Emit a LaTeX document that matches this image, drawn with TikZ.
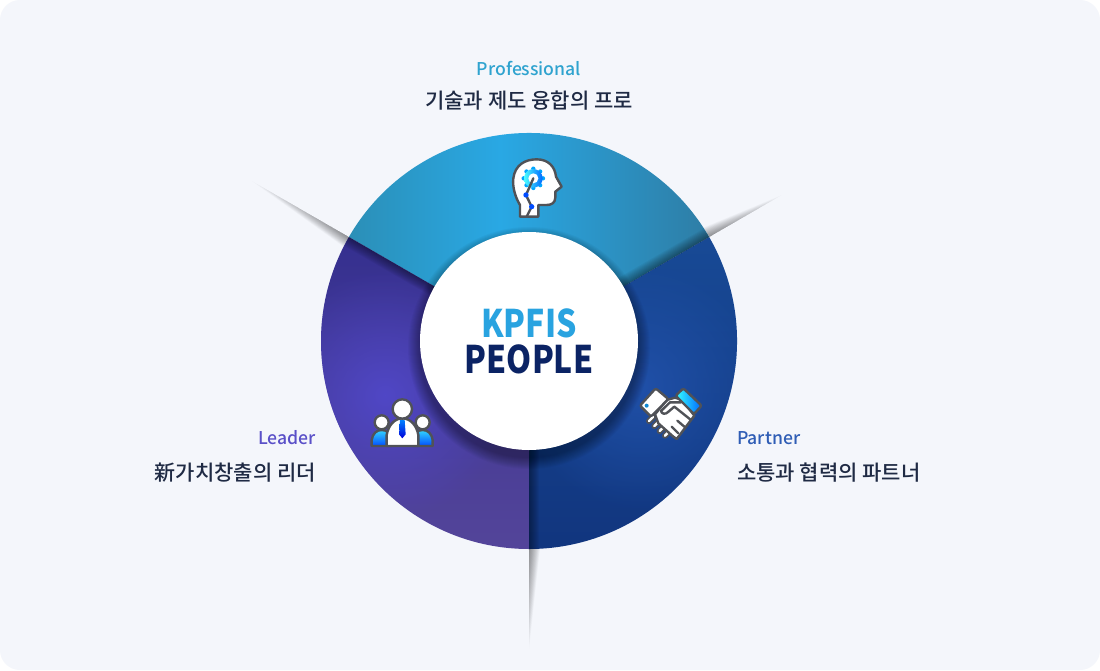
\documentclass[tikz,border=0pt]{standalone}
\usepackage{fontspec}
\setmainfont{Noto Sans CJK KR}
\newfontfamily\medfont{Noto Sans CJK KR Medium}
\newfontfamily\hubfont[FakeStretch=0.84]{Noto Sans CJK KR Black}
\usetikzlibrary{calc,fadings}
\definecolor{pagebg}{HTML}{F4F6FB}
\definecolor{iconline}{HTML}{505257}
\definecolor{subtext}{HTML}{1F2A44}
\definecolor{pro1}{HTML}{2B8FB7}
\definecolor{pro2}{HTML}{29A8E4}
\definecolor{pro3}{HTML}{2E7DA5}
\definecolor{lead1}{HTML}{342F8F}
\definecolor{lead2}{HTML}{54459A}
\definecolor{lead3}{HTML}{5047C6}
\definecolor{part1}{HTML}{184A96}
\definecolor{part2}{HTML}{11357E}
\definecolor{part3}{HTML}{2050A8}
\pgfdeclarehorizontalshading{proband}{100bp}{color(0bp)=(pro1); color(25bp)=(pro1); color(46bp)=(pro2); color(75bp)=(pro3); color(100bp)=(pro3)}
\tikzfading[name=glowfade, inner color=transparent!0, outer color=transparent!100]
\tikzstyle{title} = [font=\medfont\fontsize{17.6}{20}\selectfont, inner sep=0pt]
\tikzstyle{subtitle} = [font=\medfont\fontsize{21}{24}\selectfont, text=subtext, inner sep=0pt]
\tikzstyle{centertext} = [font=\hubfont\fontsize{38}{40}\selectfont, inner sep=0pt]
\tikzstyle{icon} = [draw=iconline, line width=2.4pt, line join=round, line cap=round]
\tikzstyle{bluefill} = [top color=blue!20!cyan!80!white, bottom color=blue!70!cyan]
\begin{document}
\begin{tikzpicture}[x=1pt,y=-1pt]
		\useasboundingbox (0,0) rectangle (1100,670);
		\fill[white] (0,0) rectangle (1100,670);
		\fill[pagebg, rounded corners=20pt] (0,0) rectangle (1100,670);
		\coordinate (ctr) at (529,341);
		% tails outside the circle
		\foreach \a/\k in {90/5,210/5.6,330/4.2}{
			\foreach \i in {1,...,20}{
				\fill[black, opacity=0.022] ($(ctr)+(\a:208)$) -- ($(ctr)+(\a:208+\k*\i)$) -- ($(ctr)+(\a:208)+(\a-90:0.55*\i)$) -- cycle;
			}
		}
		% the three sectors
		\begin{scope}
			\clip (ctr) -- ++(210:208) arc[start angle=210,end angle=330,radius=208] -- cycle;
			\shade[shading=proband] (349,130) rectangle (709,345);
		\end{scope}
		\begin{scope}
			\clip (ctr) -- ++(90:208) arc[start angle=90,end angle=210,radius=208] -- cycle;
			\shade[top color=lead1, bottom color=lead2] (315,230) rectangle (535,555);
			\fill[lead3, path fading=glowfade] (385,395) circle (125);
		\end{scope}
		\begin{scope}
			\clip (ctr) -- ++(330:208) arc[start angle=330,end angle=450,radius=208] -- cycle;
			\shade[top color=part1, bottom color=part2] (525,230) rectangle (740,555);
			\fill[part3, path fading=glowfade] (640,385) circle (125);
		\end{scope}
		% shadows inside the ring
		\begin{scope}
			\clip (ctr) circle (208);
			\foreach \a in {90,210,330}{
				\foreach \i in {1,...,10}{
					\fill[black, opacity=0.045] ($(ctr)+(\a:100)$) -- ($(ctr)+(\a:208)$) -- ($(ctr)+(\a:208)+(\a-90:\i)$) -- ($(ctr)+(\a:100)+(\a-90:\i)$) -- cycle;
				}
			}
			\foreach \i in {1,...,12}{
				\fill[black, opacity=0.03] (529,348) circle (109+\i);
			}
		\end{scope}
		\node[circle, fill=white, minimum size=218pt, inner sep=0pt] (hub) at (ctr) {};
		\node[centertext, text={rgb,255:red,41;green,163;blue,224}] (kpfis) at (529,323) {KPFIS};
		\node[centertext, text={rgb,255:red,11;green,35;blue,100}] (people) at (529,359) {PEOPLE};
		% labels
		\node[title, text={rgb,255:red,47;green,163;blue,207}] (protitle) at (529,68) {Professional};
		\node[subtitle] (prosub) at (529,101) {기술과 제도 융합의 프로};
		\node[title, anchor=east, text={rgb,255:red,90;green,80;blue,200}] (leadtitle) at (316,438) {Leader};
		\node[subtitle, anchor=east] (leadsub) at (316,473) {新가치창출의 리더};
		\node[title, anchor=west, text={rgb,255:red,47;green,93;blue,181}] (parttitle) at (737,438) {Partner};
		\node[subtitle, anchor=west] (partsub) at (737,473) {소통과 협력의 파트너};
		% head icon
		\begin{scope}[shift={(480,140)},x=0.3333pt,y=-0.3333pt]
			\filldraw[icon, fill=white] (120,230) -- (120,195) .. controls (105,170) and (97,140) .. (100,115) .. controls (105,75) and (135,58) .. (170,58) .. controls (205,58) and (225,80) .. (228,110) -- (245,140) -- (226,155) -- (226,172) .. controls (226,188) and (215,195) .. (200,195) -- (175,195) -- (175,230) -- cycle;
			\foreach \t in {0,45,...,315}{
				\fill[blue!35!cyan] ($(160,115)+(\t:29)$) circle (6.5);
			}
			\shade[left color=cyan!70!white, right color=blue!60!cyan] (160,115) circle (28);
			\fill[white] (160,115) circle (15);
			\draw[icon] (160,115) -- (138,165) -- (155,200) -- (140,230);
			\fill[blue!70!cyan] (138,165) circle (8);
			\fill[blue!70!cyan] (155,200) circle (8);
		\end{scope}
		% people icon
		\begin{scope}[shift={(350,385)},x=0.3333pt,y=-0.3333pt]
			\filldraw[icon, bluefill] (65,183) -- (65,165) .. controls (68,145) and (80,135) .. (95,135) .. controls (110,135) and (125,145) .. (125,165) -- (125,183) -- cycle;
			\filldraw[icon, bluefill] (248,183) -- (248,165) .. controls (245,145) and (233,135) .. (218,135) .. controls (203,135) and (188,145) .. (188,165) -- (188,183) -- cycle;
			\filldraw[icon, fill=white] (95,112) circle (21);
			\filldraw[icon, fill=white] (218,112) circle (21);
			\filldraw[icon, fill=white] (110,183) -- (110,150) .. controls (115,120) and (135,100) .. (157,100) .. controls (180,100) and (200,120) .. (205,150) -- (205,183) -- cycle;
			\filldraw[icon, fill=white] (157,72) circle (29);
			\shade[top color=blue!50!cyan, bottom color=blue!85!black] (150,105) -- (164,105) -- (167,148) -- (157,160) -- (147,148) -- cycle;
		\end{scope}
		% handshake icon
		\begin{scope}[shift={(625,375)},x=0.3333pt,y=-0.3333pt]
			\foreach \p in {(72,138),(88,153),(104,168),(120,182)}{
				\draw[iconline, line width=6pt, line cap=round] \p -- ++(12,-12);
				\draw[white, line width=2.4pt, line cap=round] \p -- ++(12,-12);
			}
			\filldraw[icon, fill=white] (90,118) -- (125,75) -- (150,68) -- (172,75) -- (208,122) -- (155,192) -- (145,185) -- (100,145) -- cycle;
			\draw[icon] (108,108) -- (135,82) -- (168,82);
			\draw[icon] (108,108) .. controls (110,118) and (122,118) .. (128,112) -- (148,95) -- (198,135);
			\draw[icon] (178,155) -- (157,137);
			\draw[icon] (160,175) -- (140,155);
			\filldraw[icon, fill=white, rounded corners=2pt] (45,92) -- (92,40) -- (130,72) -- (78,125) -- cycle;
			\fill[cyan!70!blue] (65,92) circle (6);
			\filldraw[icon, left color=cyan!80!white, right color=blue!60!cyan, rounded corners=2pt] (152,62) -- (175,40) -- (230,92) -- (207,117) -- cycle;
		\end{scope}
\end{tikzpicture}
\end{document}
